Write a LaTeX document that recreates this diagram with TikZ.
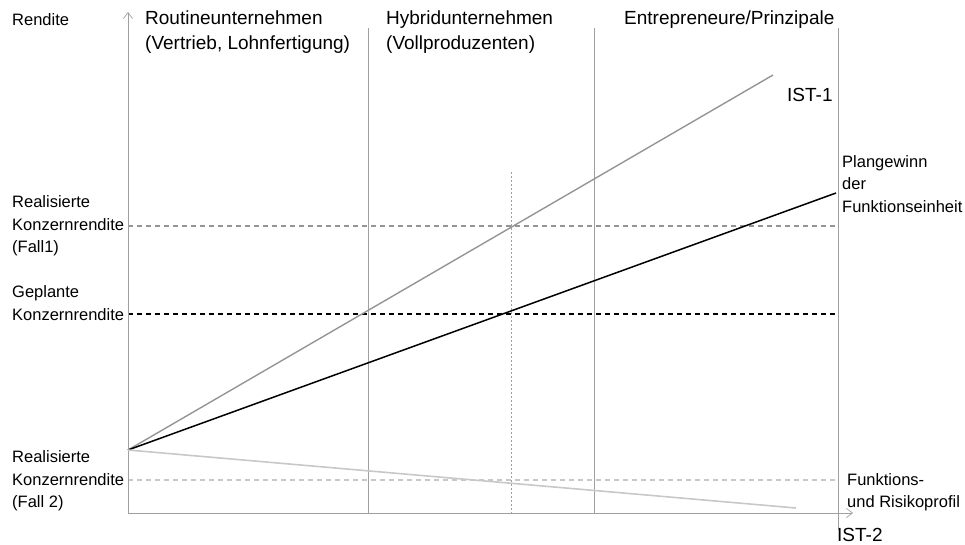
\documentclass[tikz,border=0pt]{standalone}
\usepackage{fontspec}
\setmainfont{Liberation Sans}
\usetikzlibrary{arrows.meta}
\definecolor{axisgray}{HTML}{A0A0A0}
\definecolor{linegray}{HTML}{959595}
\definecolor{lightgray}{HTML}{C8C8C8}
\tikzset{
  small/.style={font=\fontsize{16.5}{22.5}\selectfont, inner sep=0pt, align=left},
  big/.style={font=\fontsize{19}{25}\selectfont, inner sep=0pt, align=left},
  axis/.style={draw=axisgray, line width=0.9pt, -{Straight Barb[length=6pt,width=9pt,line width=0.7pt]}},
  sep/.style={draw=axisgray, line width=0.9pt},
  dotv/.style={draw=axisgray, line width=0.8pt, dash pattern=on 2pt off 2pt},
}
\begin{document}
\begin{tikzpicture}[x=1pt,y=-1pt]
\useasboundingbox (0,0) rectangle (965,545);
% coordinates
\coordinate (O) at (128,513);
\coordinate (ytop) at (128,12);
\coordinate (xend) at (853,513);
\coordinate (S) at (128,450);
\coordinate (ist1) at (773,75);
\coordinate (plan) at (836,193);
\coordinate (ist2) at (796,508);
\coordinate (v1t) at (368,28);  \coordinate (v1b) at (368,513);
\coordinate (v2t) at (594,28);  \coordinate (v2b) at (594,513);
\coordinate (v3t) at (838,28);  \coordinate (v3b) at (838,530);
\coordinate (dt) at (511,172);  \coordinate (db) at (511,513);
\coordinate (h1a) at (128,226); \coordinate (h1b) at (838,226);
\coordinate (h2a) at (128,314); \coordinate (h2b) at (838,314);
\coordinate (h3a) at (128,480); \coordinate (h3b) at (838,480);
% separators
\draw[sep] (v1t) -- (v1b);
\draw[sep] (v2t) -- (v2b);
\draw[sep] (v3t) -- (v3b);
\draw[dotv] (dt) -- (db);
% dashed levels
\draw[draw=linegray, line width=1.3pt, dash pattern=on 5pt off 4pt] (h1a) -- (h1b);
\draw[draw=black, line width=1.3pt, dash pattern=on 5pt off 4pt] (h2a) -- (h2b);
\draw[draw=lightgray, line width=1.3pt, dash pattern=on 5pt off 4pt] (h3a) -- (h3b);
% axes
\draw[axis] (O) -- (ytop);
\draw[axis] (O) -- (xend);
% lines
\draw[draw=linegray, line width=1.4pt] (S) -- (ist1);
\draw[draw=black, line width=1.5pt] (S) -- (plan);
\draw[draw=lightgray, line width=1.6pt] (S) -- (ist2);
% labels
\node[small, anchor=west] (rendite) at (12,20) {Rendite};
\node[big, anchor=west] (routine) at (145,32.5) {Routineunternehmen\\(Vertrieb, Lohnfertigung)};
\node[big, anchor=west] (hybrid) at (386,32.5) {Hybridunternehmen\\(Vollproduzenten)};
\node[big, anchor=west] (entre) at (624,20) {Entrepreneure/Prinzipale};
\node[big, anchor=west] (ist1l) at (787,95) {IST-1};
\node[small, anchor=west] (planl) at (842,184) {Plangewinn\\der\\Funktionseinheit};
\node[small, anchor=west] (fall1) at (12,226) {Realisierte\\Konzernrendite\\(Fall1)};
\node[small, anchor=west] (geplant) at (12,303) {Geplante\\Konzernrendite};
\node[small, anchor=west] (fall2) at (12,481) {Realisierte\\Konzernrendite\\(Fall 2)};
\node[small, anchor=west] (profil) at (847,492) {Funktions-\\und Risikoprofil};
\node[big, anchor=west] (ist2l) at (837,535) {IST-2};
\end{tikzpicture}
\end{document}
